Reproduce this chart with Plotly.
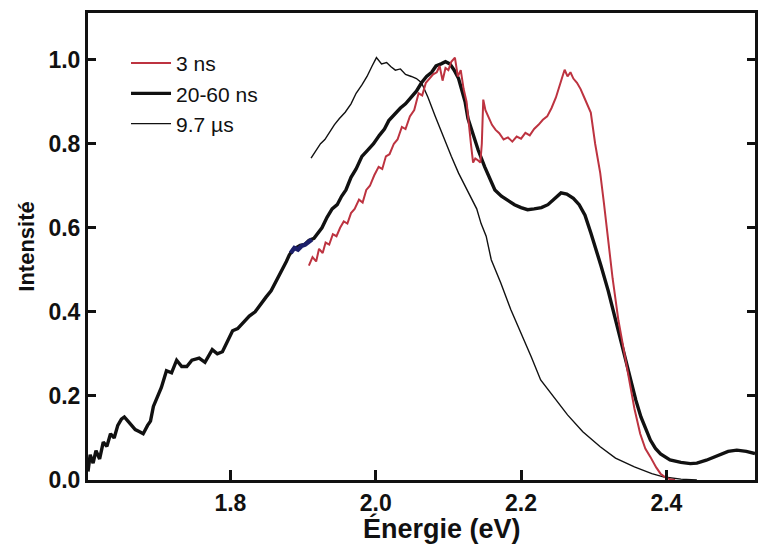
import plotly.graph_objects as go

# 20-60 ns (thick black)
e_mid = [1.604, 1.607, 1.611, 1.615, 1.620, 1.625, 1.630, 1.635, 1.640, 1.645, 1.650, 1.654, 1.659,
         1.664, 1.669, 1.675, 1.680, 1.686, 1.690, 1.694, 1.699, 1.705, 1.712, 1.719, 1.726, 1.733,
         1.740, 1.747, 1.757, 1.765, 1.775, 1.782, 1.789, 1.796, 1.803, 1.810, 1.818, 1.826, 1.834,
         1.842, 1.849, 1.856, 1.862, 1.867, 1.872, 1.877, 1.881, 1.886, 1.890, 1.896, 1.902, 1.908,
         1.915, 1.921, 1.926, 1.933, 1.940, 1.947, 1.953, 1.959, 1.966, 1.973, 1.981, 1.989, 1.997,
         2.005, 2.012, 2.018, 2.026, 2.034, 2.041, 2.048, 2.056, 2.063, 2.070, 2.077, 2.083, 2.090,
         2.096, 2.102, 2.108, 2.114, 2.118, 2.123, 2.127, 2.134, 2.141, 2.150, 2.157, 2.164, 2.173,
         2.182, 2.191, 2.200, 2.209, 2.218, 2.228, 2.237, 2.246, 2.255, 2.263, 2.272, 2.280, 2.288,
         2.296, 2.303, 2.310, 2.320, 2.330, 2.340, 2.351, 2.358, 2.365, 2.372, 2.378, 2.385, 2.392,
         2.405, 2.420, 2.433, 2.442, 2.455, 2.470, 2.485, 2.497, 2.510, 2.522]
i_mid = [0.02, 0.06, 0.04, 0.07, 0.05, 0.09, 0.08, 0.11, 0.10, 0.13, 0.145, 0.15, 0.14,
         0.13, 0.12, 0.115, 0.11, 0.13, 0.14, 0.175, 0.198, 0.22, 0.26, 0.255, 0.285, 0.27,
         0.27, 0.285, 0.29, 0.28, 0.31, 0.30, 0.305, 0.33, 0.355, 0.36, 0.375, 0.39, 0.40,
         0.42, 0.435, 0.45, 0.47, 0.483, 0.50, 0.52, 0.535, 0.548, 0.552, 0.558, 0.56, 0.57,
         0.575, 0.59, 0.60, 0.625, 0.645, 0.655, 0.675, 0.69, 0.72, 0.74, 0.77, 0.785, 0.80,
         0.82, 0.835, 0.855, 0.87, 0.885, 0.895, 0.91, 0.925, 0.945, 0.96, 0.97, 0.985, 0.99,
         0.995, 0.99, 0.975, 0.955, 0.93, 0.90, 0.86, 0.82, 0.785, 0.745, 0.715, 0.69, 0.675,
         0.665, 0.655, 0.648, 0.643, 0.645, 0.648, 0.655, 0.668, 0.683, 0.68, 0.67, 0.655, 0.63,
         0.588, 0.55, 0.51, 0.45, 0.38, 0.31, 0.238, 0.19, 0.15, 0.118, 0.095, 0.075, 0.062,
         0.048, 0.042, 0.039, 0.04, 0.047, 0.058, 0.068, 0.071, 0.068, 0.063]

# 3 ns (red)
e_3ns = [1.908, 1.913, 1.918, 1.922, 1.927, 1.931, 1.936, 1.941, 1.946, 1.951, 1.956, 1.961,
         1.966, 1.971, 1.977, 1.982, 1.987, 1.992, 1.998, 2.004, 2.009, 2.014, 2.019, 2.025,
         2.030, 2.036, 2.041, 2.047, 2.053, 2.059, 2.064, 2.069, 2.074, 2.079, 2.084, 2.088,
         2.092, 2.096, 2.100, 2.104, 2.109, 2.113, 2.117, 2.121, 2.125, 2.128, 2.131, 2.134,
         2.137, 2.141, 2.144, 2.146, 2.148, 2.151, 2.155, 2.160, 2.165, 2.170, 2.176, 2.182,
         2.188, 2.194, 2.200, 2.206, 2.212, 2.218, 2.224, 2.230, 2.236, 2.242, 2.248, 2.253,
         2.257, 2.260, 2.264, 2.268, 2.272, 2.277, 2.282, 2.287, 2.292, 2.296, 2.302, 2.309,
         2.314, 2.319, 2.326, 2.334, 2.342, 2.349, 2.356, 2.364, 2.371, 2.378, 2.386, 2.392,
         2.398, 2.405, 2.412]
i_3ns = [0.51, 0.53, 0.52, 0.55, 0.54, 0.565, 0.56, 0.585, 0.58, 0.60, 0.615, 0.61,
         0.635, 0.645, 0.667, 0.66, 0.69, 0.70, 0.725, 0.745, 0.74, 0.77, 0.775, 0.80,
         0.81, 0.84, 0.835, 0.865, 0.88, 0.92, 0.915, 0.945, 0.955, 0.965, 0.97, 0.985,
         0.95, 0.98, 0.975, 0.995, 1.005, 0.96, 0.975, 0.93, 0.90, 0.857, 0.80, 0.755,
         0.765, 0.76, 0.755, 0.80, 0.905, 0.88, 0.865, 0.845, 0.833, 0.825, 0.81, 0.815,
         0.805, 0.817, 0.812, 0.826, 0.82, 0.835, 0.845, 0.857, 0.865, 0.885, 0.91, 0.935,
         0.96, 0.976, 0.96, 0.97, 0.955, 0.945, 0.93, 0.91, 0.89, 0.874, 0.80, 0.73,
         0.66, 0.58, 0.48, 0.38, 0.30, 0.238, 0.17, 0.11, 0.075, 0.055, 0.03, 0.015,
         0.007, 0.002, 0.0]

# 9.7 µs (thin black)
e_long = [1.911, 1.918, 1.924, 1.930, 1.936, 1.943, 1.950, 1.958, 1.966, 1.973, 1.981, 1.988,
          1.995, 2.001, 2.008, 2.015, 2.021, 2.027, 2.034, 2.041, 2.049, 2.056, 2.063, 2.072,
          2.082, 2.093, 2.104, 2.114, 2.123, 2.131, 2.139, 2.145, 2.152, 2.159, 2.172, 2.186,
          2.200, 2.214, 2.227, 2.246, 2.264, 2.285, 2.309, 2.330, 2.356, 2.380, 2.397, 2.420, 2.442]
i_long = [0.766, 0.785, 0.80, 0.81, 0.826, 0.845, 0.86, 0.875, 0.895, 0.92, 0.94, 0.96,
          0.985, 1.005, 0.99, 0.993, 0.983, 0.975, 0.978, 0.965, 0.96, 0.955, 0.945, 0.91,
          0.865, 0.815, 0.77, 0.73, 0.70, 0.675, 0.645, 0.61, 0.58, 0.524, 0.469, 0.405,
          0.35, 0.293, 0.238, 0.195, 0.155, 0.115, 0.079, 0.052, 0.031, 0.015, 0.007, 0.002, 0.0]

# short navy overlay seen under the 20-60 ns trace
e_blue = [1.883, 1.888, 1.893, 1.898, 1.903, 1.908, 1.912]
i_blue = [0.54, 0.552, 0.548, 0.557, 0.56, 0.568, 0.572]

x_ticks = [1.8, 2.0, 2.2, 2.4]
y_ticks = [0.0, 0.2, 0.4, 0.6, 0.8, 1.0]

FONT = "Liberation Sans, Arial, Helvetica, sans-serif"

fig = go.Figure()
fig.add_trace(go.Scatter(x=e_long, y=i_long, mode="lines", name="9.7 µs",
                         line=dict(color="#111111", width=1.4), legendrank=3))
fig.add_trace(go.Scatter(x=e_mid, y=i_mid, mode="lines", name="20-60 ns",
                         line=dict(color="#111111", width=3.4), legendrank=2))
fig.add_trace(go.Scatter(x=e_blue, y=i_blue, mode="lines", showlegend=False,
                         line=dict(color="#1c1f6b", width=4.5), hoverinfo="skip"))
fig.add_trace(go.Scatter(x=e_3ns, y=i_3ns, mode="lines", name="3 ns",
                         line=dict(color="#bd3340", width=2), legendrank=1))

fig.add_annotation(text="<b>Énergie (eV)</b>", xref="paper", yref="paper",
                   x=0.53, y=-0.103, xanchor="center", yanchor="middle", showarrow=False,
                   font=dict(size=27, family=FONT, color="#111111"))

fig.update_layout(
    width=758, height=554,
    margin=dict(l=88, r=0, t=13, b=74),
    paper_bgcolor="white", plot_bgcolor="white",
    font=dict(family=FONT, color="#111111"),
    showlegend=True,
    legend=dict(x=0.057, y=0.936, xanchor="left", yanchor="top",
                bgcolor="rgba(0,0,0,0)", font=dict(size=21, family=FONT),
                tracegroupgap=0, itemwidth=40),
    xaxis=dict(range=[1.604, 2.522], tickvals=x_ticks, ticktext=[f"{v:.1f}" for v in x_ticks],
               showline=True, linewidth=3, linecolor="#111111", mirror=True,
               ticks="inside", ticklen=10, tickwidth=2.5, tickcolor="#111111",
               showgrid=False, zeroline=False,
               tickfont=dict(size=23, family=FONT, weight="bold")),
    yaxis=dict(range=[0, 1.111], tickvals=y_ticks, ticktext=[f"{v:.1f}" for v in y_ticks],
               showline=True, linewidth=3, linecolor="#111111", mirror="ticks",
               ticks="inside", ticklen=8, tickwidth=2.5, tickcolor="#111111",
               showgrid=False, zeroline=False,
               tickfont=dict(size=23, family=FONT, weight="bold"),
               title=dict(text="Intensité", font=dict(size=22, family=FONT, weight="bold"),
                          standoff=8)),
)

fig.write_html("out.html")
